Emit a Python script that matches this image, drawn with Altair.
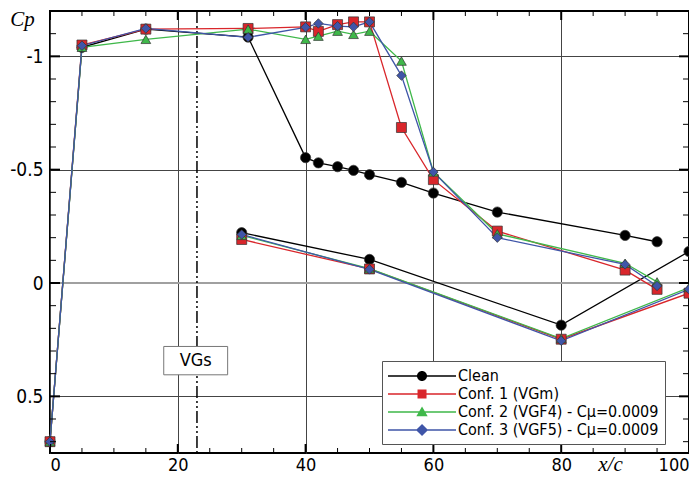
import altair as alt
import pandas as pd

# ---------------- data ----------------
series_names = ["Clean", "Conf. 1 (VGm)", "Conf. 2 (VGF4) - Cμ=0.0009", "Conf. 3 (VGF5) - Cμ=0.0009"]
series_colors = ["#000000", "#d9262b", "#3fb84a", "#3f55a8"]

upper_x = [0, 5, 15, 31, 40, 42, 45, 47.5, 50, 55, 60, 70, 90, 95]
lower_x = [30, 50, 80, 100]

clean_upper = [0.70, -1.04, -1.12, -1.085, -0.553, -0.53, -0.513, -0.497, -0.478, -0.444, -0.397, -0.313, -0.21, -0.182]
clean_lower = [-0.222, -0.104, 0.186, -0.139]

conf1_upper = [0.70, -1.05, -1.12, -1.123, -1.13, -1.11, -1.14, -1.152, -1.152, -0.686, -0.456, -0.229, -0.057, 0.028]
conf1_lower = [-0.192, -0.062, 0.248, 0.045]

conf2_upper = [0.70, -1.04, -1.075, -1.12, -1.075, -1.089, -1.111, -1.097, -1.111, -0.979, -0.49, -0.217, -0.087, -0.005]
conf2_lower = [-0.21, -0.063, 0.245, 0.02]

conf3_upper = [0.70, -1.047, -1.123, -1.084, -1.128, -1.145, -1.133, -1.130, -1.152, -0.915, -0.49, -0.20, -0.082, 0.013]
conf3_lower = [-0.214, -0.060, 0.255, 0.028]

# axis tick values
x_major = [0, 20, 40, 60, 80, 100]
x_minor = [5, 10, 15, 25, 30, 35, 45, 50, 55, 65, 70, 75, 85, 90, 95]
y_major = [-1.0, -0.5, 0.0, 0.5]
y_minor = [-1.1, -0.9, -0.8, -0.7, -0.6, -0.4, -0.3, -0.2, -0.1, 0.1, 0.2, 0.3, 0.4, 0.6, 0.7]

# annotations
zero_line = [0.0]
vgs_x = [23]
vgs_box = {"x1": [17.8], "x2": [27.8], "y1": [0.28], "y2": [0.405], "tx": [22.8], "ty": [0.343], "label": ["VGs"]}

# ---------------- build table ----------------
rows = []
all_upper = [clean_upper, conf1_upper, conf2_upper, conf3_upper]
all_lower = [clean_lower, conf1_lower, conf2_lower, conf3_lower]
for name, up, lo in zip(series_names, all_upper, all_lower):
    for xv, yv in zip(upper_x, up):
        rows.append({"series": name, "surface": "upper", "x": xv, "cp": yv})
    for xv, yv in zip(lower_x, lo):
        rows.append({"series": name, "surface": "lower", "x": xv, "cp": yv})
df = pd.DataFrame(rows)

XS = alt.Scale(domain=[0, 100], nice=False, zero=False)
YS = alt.Scale(domain=[-1.2, 0.75], reverse=True, nice=False, zero=False)

SANS = "DejaVu Sans Condensed, Liberation Sans, sans-serif"
SERIF = "Liberation Serif, DejaVu Serif, serif"

AX = alt.Axis(
    values=x_major, title="x/c", grid=True, ticks=False, domain=False, orient="bottom",
    labelFont=SANS, labelFontSize=18, labelColor="black", labelPadding=3,
    gridColor="#444444", gridWidth=1,
    titleFont=SERIF, titleFontStyle="italic", titleFontWeight="normal", titleFontSize=21,
    titleColor="black", titleX=560, titleY=11, titleAlign="center", titleBaseline="middle")
AY = alt.Axis(
    values=y_major, title="Cp", grid=True, ticks=False, domain=False, orient="left",
    labelExpr="datum.value + ''",
    labelFont=SANS, labelFontSize=19, labelColor="black", labelPadding=7,
    gridColor="#444444", gridWidth=1,
    titleFont=SERIF, titleFontStyle="italic", titleFontWeight="normal", titleFontSize=21,
    titleColor="black", titleAngle=0, titleX=-28, titleY=8, titleAlign="center", titleBaseline="middle")

def X(field):
    return alt.X(field, scale=XS, axis=AX)

def Y(field):
    return alt.Y(field, scale=YS, axis=AY)

color_scale = alt.Scale(domain=series_names, range=series_colors)

# legend symbols: line + marker (custom paths)
legend_paths = [
    "M-1,-0.07H6.56V0.07H-1Z M2.224,0A0.556,0.556 0 1,1 3.336,0A0.556,0.556 0 1,1 2.224,0Z",
    "M-1,-0.07H6.56V0.07H-1Z M2.28,-0.5H3.28V0.5H2.28Z",
    "M-1,-0.07H6.56V0.07H-1Z M2.78,-0.62L3.41,0.47H2.15Z",
    "M-1,-0.07H6.56V0.07H-1Z M2.78,-0.67L3.45,0L2.78,0.67L2.11,0Z",
]

# ---------------- layers ----------------
lines = alt.Chart(df).mark_line(strokeWidth=1.3).encode(
    x=X("x:Q"), y=Y("cp:Q"),
    color=alt.Color("series:N", scale=color_scale, legend=None),
    detail="surface:N",
)

points = alt.Chart(df).mark_point(filled=True, opacity=1, stroke="#333333", strokeWidth=0.7).encode(
    x=X("x:Q"), y=Y("cp:Q"),
    color=alt.Color("series:N", scale=color_scale, legend=None),
    shape=alt.Shape("series:N", scale=alt.Scale(domain=series_names,
                    range=["circle", "square", "triangle-up", "diamond"]), legend=None),
    size=alt.Size("series:N", scale=alt.Scale(domain=series_names, range=[105, 90, 130, 170]), legend=None),
)

zero_rule = alt.Chart(pd.DataFrame({"cp": zero_line})).mark_rule(color="#a0a0a0", strokeWidth=2).encode(
    y=Y("cp:Q"))

vgs_rule = alt.Chart(pd.DataFrame({"x": vgs_x})).mark_rule(
    color="black", strokeWidth=1.5, strokeDash=[12, 3, 2, 3, 2, 3]).encode(
    x=X("x:Q"))

box_df = pd.DataFrame(vgs_box)
vgs_rect = alt.Chart(box_df).mark_rect(fill="white", stroke="#777777", strokeWidth=1).encode(
    x=X("x1:Q"), x2="x2:Q", y=Y("y1:Q"), y2="y2:Q")
vgs_text = alt.Chart(box_df).mark_text(font=SANS, fontSize=18, color="black", baseline="middle", align="center").encode(
    x=X("tx:Q"), y=Y("ty:Q"), text="label:N")

def xticks(vals, size, thick, ypos):
    return alt.Chart(pd.DataFrame({"x": vals})).mark_tick(
        orient="vertical", size=size, thickness=thick, color="black", clip=True, opacity=1).encode(
        x=X("x:Q"), y=alt.value(ypos))

def yticks(vals, size, thick, xpos):
    return alt.Chart(pd.DataFrame({"cp": vals})).mark_tick(
        orient="horizontal", size=size, thickness=thick, color="black", clip=True, opacity=1).encode(
        y=Y("cp:Q"), x=alt.value(xpos))

ticks = [
    xticks(x_major, 18, 2, "height"), xticks(x_major, 18, 2, 0),
    xticks(x_minor, 10, 1, "height"), xticks(x_minor, 10, 1, 0),
    yticks(y_major, 20, 2, 0), yticks(y_major, 20, 2, "width"),
    yticks(y_minor, 12, 1, 0), yticks(y_minor, 12, 1, "width"),
]

legend_props = dict(
    title=None, orient="none", legendX=332, legendY=350,
    labelFont=SANS, labelFontSize=16, labelColor="black", labelLimit=500,
    labelOffset=52, symbolSize=324, symbolStrokeWidth=0, rowPadding=1,
    strokeColor="#555555", fillColor="white", padding=6,
)
legend_layer = alt.Chart(df).transform_filter("false").mark_point(filled=True, opacity=1).encode(
    x=X("x:Q"), y=Y("cp:Q"),
    color=alt.Color("series:N", scale=color_scale, legend=alt.Legend(**legend_props)),
    shape=alt.Shape("series:N", scale=alt.Scale(domain=series_names, range=legend_paths),
                    legend=alt.Legend(**legend_props)),
)

chart = alt.layer(
    zero_rule, vgs_rule, vgs_rect, vgs_text, lines, points, *ticks, legend_layer
).resolve_scale(
    color="independent", shape="independent"
).properties(
    width=639, height=442,
    padding={"left": 42, "top": 3, "right": 0, "bottom": 23},
    autosize=alt.AutoSizeParams(type="none"),
    background="white",
).configure_view(
    stroke="black", strokeWidth=2
)

chart.save("out.html", embed_options={"renderer": "svg", "actions": False})
